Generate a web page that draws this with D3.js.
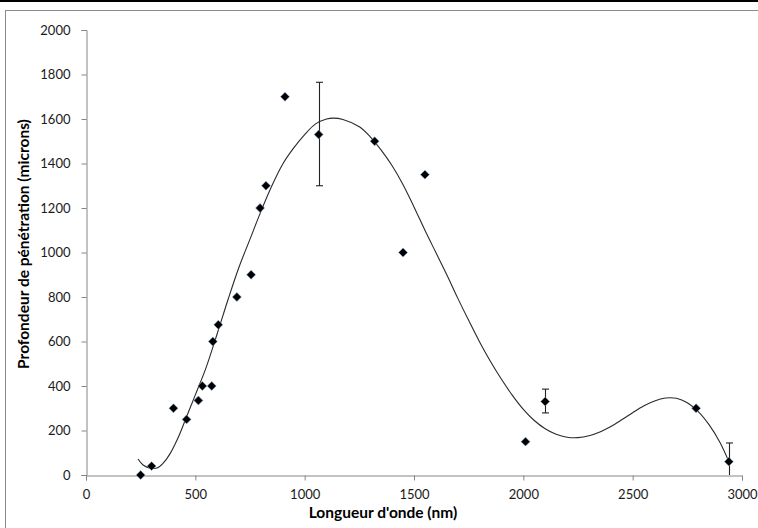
<!DOCTYPE html>
<html><head><meta charset="utf-8">
<script src="https://cdn.jsdelivr.net/npm/d3@7"></script>
<style>body{margin:0;background:#fff}svg{display:block}</style>
</head><body><svg id="c" width="758" height="528"></svg>
<script>
// Data points
const wavelength = [250,300,400,460,514,532,575,580,605,690,755,796,823,910,1064,1320,1450,1550,2010,2100,2790,2940];
const depth      = [0,40,300,250,335,400,400,600,675,800,900,1200,1300,1700,1530,1500,1000,1350,150,330,300,60];
// Error bars: [wavelength, low, high]
const errX    = [1064, 2100, 2940];
const errLow  = [1300, 279, 0];
const errHigh = [1765, 386, 144];
// Trend line
const trendX = [238,261,293,325,352,384,420,460,500,550,600,650,700,750,800,850,900,950,1000,1050,1100,1130,1175,1250,1300,1350,1400,1450,1500,1550,1600,1650,1700,1750,1800,1850,1900,1950,2000,2050,2100,2150,2200,2250,2300,2350,2400,2450,2500,2550,2600,2650,2700,2750,2800,2850,2900,2940];
const trendY = [72,45,31,31,52,95,165,262,360,485,635,790,935,1060,1185,1300,1398,1470,1530,1578,1600,1604,1598,1565,1520,1460,1390,1305,1205,1100,1000,900,795,695,598,510,430,358,295,245,208,183,170,168,176,193,218,248,280,310,333,346,345,325,285,225,145,60];
const xTicks = [0,500,1000,1500,2000,2500,3000];
const yTicks = [0,200,400,600,800,1000,1200,1400,1600,1800,2000];
const xTitle = "Longueur d'onde (nm)";
const yTitle = "Profondeur de pénétration (microns)";

const svg = d3.select("#c");
const font = "Lato, 'Open Sans', sans-serif";
// frame
svg.append("rect").attr("x",0).attr("y",0).attr("width",758).attr("height",2).attr("fill","#000");
svg.append("rect").attr("x",5.5).attr("y",10.5).attr("width",800).attr("height",600)
  .attr("fill","none").attr("stroke","#8c8c8c").attr("stroke-width",1);

const x = d3.scaleLinear().domain([0,3000]).range([86,742]);
const y = d3.scaleLinear().domain([0,2000]).range([475,30]);

const gx = svg.append("g").attr("transform","translate(0,475.5)")
  .call(d3.axisBottom(x).tickValues(xTicks).tickSize(5).tickPadding(9).tickFormat(d3.format("d")));
const gy = svg.append("g").attr("transform","translate(86.5,0)")
  .call(d3.axisLeft(y).tickValues(yTicks).tickSize(5).tickPadding(11).tickFormat(d3.format("d")));
[gx,gy].forEach(g=>{
  g.select(".domain").attr("stroke","#868686");
  g.selectAll(".tick line").attr("stroke","#868686");
  g.selectAll(".tick text").attr("fill","#1a1a1a").style("font-family",font).style("font-size","13px");
});

svg.append("text").attr("x",383).attr("y",518).attr("text-anchor","middle")
  .style("font-family",font).style("font-weight","bold").style("font-size","15.5px").attr("fill","#000").text(xTitle);
svg.append("text").attr("transform","translate(29,244) rotate(-90)").attr("text-anchor","middle")
  .style("font-family",font).style("font-weight","bold").style("font-size","15.5px").attr("fill","#000").text(yTitle);

// trend
const line = d3.line().x((d,i)=>x(trendX[i])).y((d,i)=>y(trendY[i])).curve(d3.curveCatmullRom);
svg.append("path").datum(trendX).attr("d",line).attr("fill","none").attr("stroke","#2a2a2a").attr("stroke-width",1.1);

// error bars
const eg = svg.append("g").attr("stroke","#222").attr("stroke-width",1.1);
errX.forEach((ex,i)=>{
  const cx = Math.round(x(ex))+0.5;
  eg.append("line").attr("x1",cx).attr("x2",cx).attr("y1",y(errLow[i])).attr("y2",y(errHigh[i]));
  eg.append("line").attr("x1",cx-3.5).attr("x2",cx+3.5).attr("y1",y(errHigh[i])).attr("y2",y(errHigh[i]));
  if (errLow[i] > 0) eg.append("line").attr("x1",cx-3.5).attr("x2",cx+3.5).attr("y1",y(errLow[i])).attr("y2",y(errLow[i]));
});

// markers
const sym = d3.symbol().type(d3.symbolSquare).size(40);
svg.append("g").selectAll("path").data(wavelength).join("path")
  .attr("d",sym)
  .attr("transform",(d,i)=>`translate(${x(d)},${y(depth[i])}) rotate(45)`)
  .attr("fill","#000").attr("stroke","#7fa3d0").attr("stroke-width",0.6).attr("stroke-opacity",0.8);
</script></body></html>
